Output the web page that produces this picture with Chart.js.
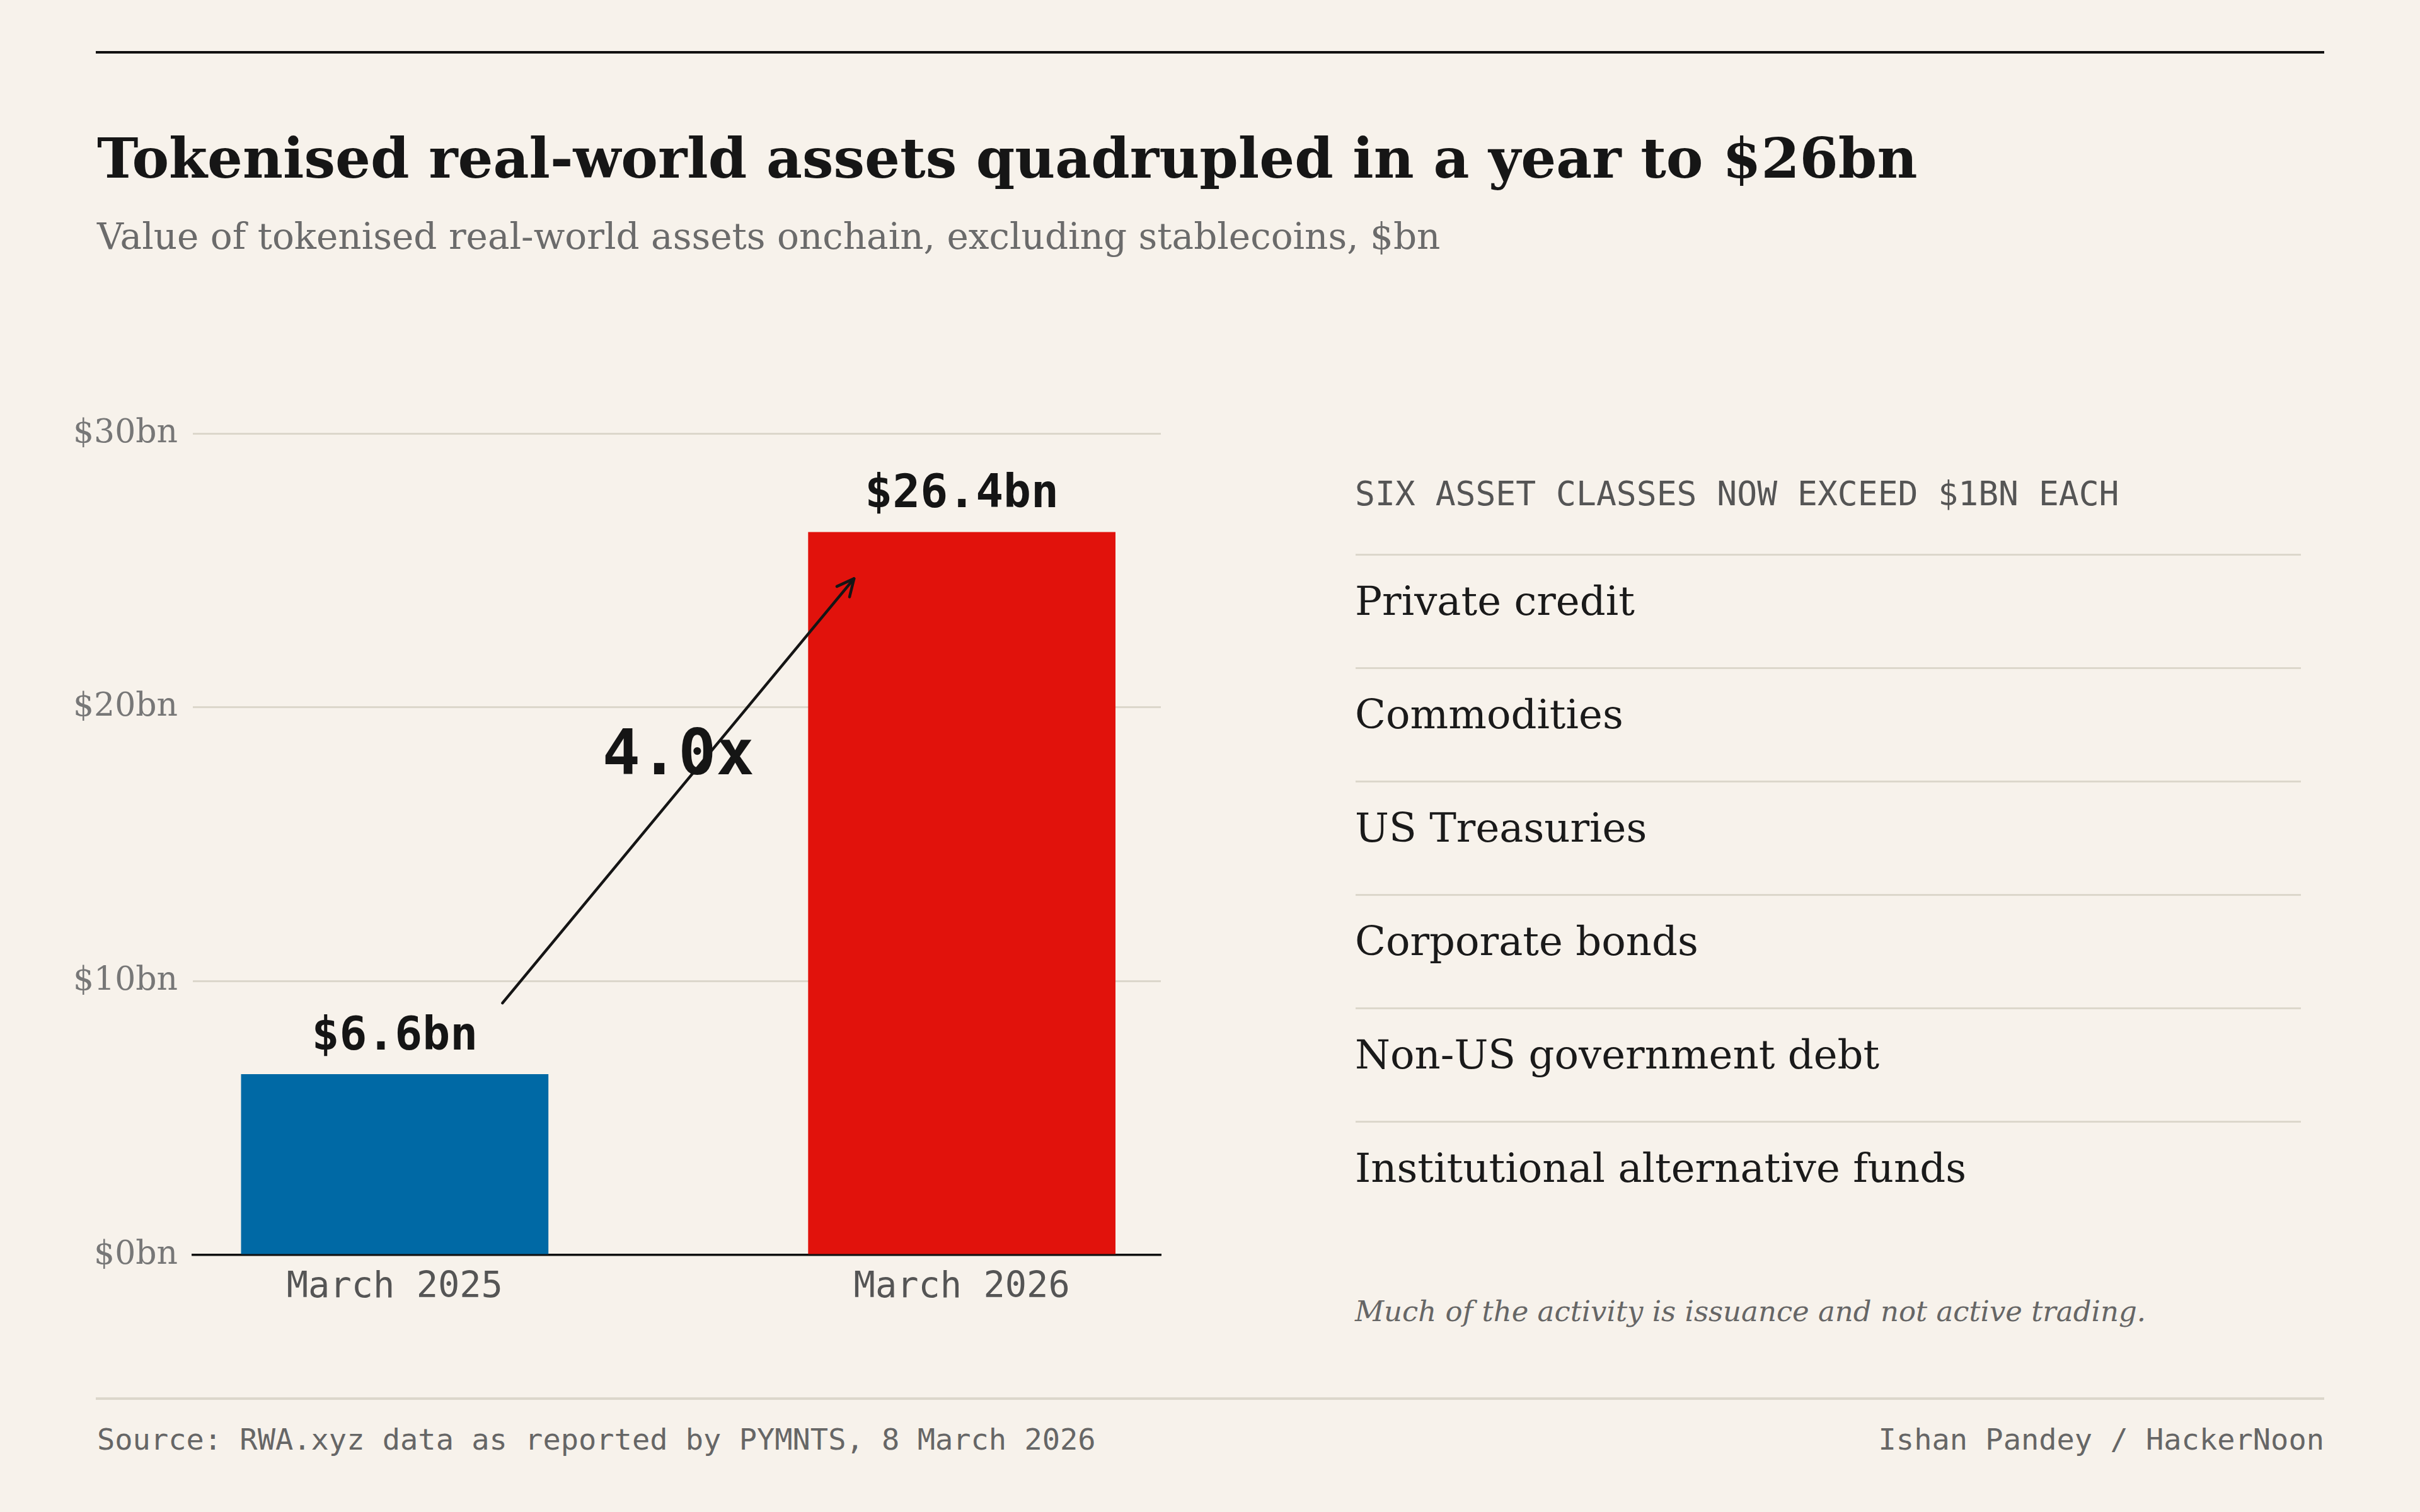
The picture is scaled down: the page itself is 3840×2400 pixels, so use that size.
<!DOCTYPE html>
<html>
<head>
<meta charset="utf-8">
<title>Tokenised real-world assets</title>
<script src="https://cdn.jsdelivr.net/npm/chart.js@4.4.1/dist/chart.umd.min.js"></script>
<style>
  html, body { margin: 0; padding: 0; background: #f7f2eb; }
  .page { position: relative; width: 3840px; height: 2400px; overflow: hidden; }
  .abs { position: absolute; white-space: nowrap; line-height: 1; }
  .rule { position: absolute; left: 152px; width: 3536px; }
  .rule-top { top: 81px; height: 4px; background: #111; }
  .rule-bottom { top: 2218px; height: 4px; background: #dcd7cb; }
  .title { left: 154px; top: 199px; font: bold 88px 'DejaVu Serif'; color: #161616; }
  .subtitle { left: 154px; top: 341px; font: 58px 'DejaVu Serif'; color: #6b6b6b; }
  .chart-box { position: absolute; left: 0; top: 0; width: 1900px; height: 2150px; }
  .panel-head { left: 2150px; top: 753px; font: 53px 'DejaVu Sans Mono'; color: #555; }
  .sep { position: absolute; left: 2151px; width: 1500px; height: 3px; background: #dcd7cb; }
  .item { left: 2150px; font: 64px 'DejaVu Serif'; color: #1a1a1a; }
  .note { left: 2150px; top: 2055px; font: italic 45px 'DejaVu Serif'; color: #666; }
  .foot { top: 2257px; font: 47px 'DejaVu Sans Mono'; color: #666; }
  .foot-left { left: 154px; }
  .foot-right { right: 152px; }
</style>
</head>
<body>
<div class="page" id="page">
  <div class="rule rule-top"></div>
  <div class="abs title">Tokenised real-world assets quadrupled in a year to $26bn</div>
  <div class="abs subtitle">Value of tokenised real-world assets onchain, excluding stablecoins, $bn</div>

  <div class="chart-box"><canvas id="chart" width="1900" height="2150"></canvas></div>

  <div class="abs panel-head">SIX ASSET CLASSES NOW EXCEED $1BN EACH</div>
  <div id="panel"></div>
  <div class="abs note">Much of the activity is issuance and not active trading.</div>

  <div class="rule rule-bottom"></div>
  <div class="abs foot foot-left">Source: RWA.xyz data as reported by PYMNTS, 8 March 2026</div>
  <div class="abs foot foot-right">Ishan Pandey / HackerNoon</div>
</div>

<script>
const categories = ['March 2025', 'March 2026']
const values = [6.6, 26.4]
const barColors = ['#0069a5', '#e1120c']
const yTicks = [0, 10, 20, 30]
const assetClasses = [
  'Private credit',
  'Commodities',
  'US Treasuries',
  'Corporate bonds',
  'Non-US government debt',
  'Institutional alternative funds'
]

// right-hand list
const panel = document.getElementById('panel')
assetClasses.forEach((name, i) => {
  const sep = document.createElement('div')
  sep.className = 'sep'
  sep.style.top = (879 + i * 180) + 'px'
  panel.appendChild(sep)

  const item = document.createElement('div')
  item.className = 'abs item'
  item.style.top = (917 + i * 180) + 'px'
  item.textContent = name
  panel.appendChild(item)
})

const monoFont = 'DejaVu Sans Mono'

// value labels, growth arrow and multiple
const annotations = {
  id: 'annotations',
  afterDatasetsDraw(chart) {
    const { ctx, scales: { x, y } } = chart
    const meta = chart.getDatasetMeta(0)

    ctx.save()
    ctx.fillStyle = '#151515'
    ctx.textAlign = 'center'
    ctx.textBaseline = 'alphabetic'
    ctx.font = 'bold 73px "' + monoFont + '"'
    meta.data.forEach((bar, i) => {
      ctx.fillText('$' + values[i].toFixed(1) + 'bn', bar.x, bar.y - 39)
    })

    const x0 = x.getPixelForValue(0.19)
    const y0 = y.getPixelForValue(values[0] + 2.6)
    const x1 = x.getPixelForValue(0.81)
    const y1 = y.getPixelForValue(values[1] - 1.7)

    ctx.strokeStyle = '#151515'
    ctx.lineWidth = 4.5
    ctx.lineCap = 'round'
    ctx.lineJoin = 'round'
    ctx.beginPath()
    ctx.moveTo(x0, y0)
    ctx.lineTo(x1, y1)
    ctx.stroke()

    const ang = Math.atan2(y1 - y0, x1 - x0)
    const head = 30
    ctx.beginPath()
    ctx.moveTo(x1 - head * Math.cos(ang - 0.45), y1 - head * Math.sin(ang - 0.45))
    ctx.lineTo(x1, y1)
    ctx.lineTo(x1 - head * Math.cos(ang + 0.45), y1 - head * Math.sin(ang + 0.45))
    ctx.stroke()

    ctx.font = 'bold 100px "' + monoFont + '"'
    ctx.fillText((values[1] / values[0]).toFixed(1) + 'x', (x0 + x1) / 2, (y0 + y1) / 2 - 26)
    ctx.restore()
  }
}

new Chart(document.getElementById('chart'), {
  type: 'bar',
  data: {
    datasets: [{
      data: values.map((v, i) => ({ x: i, y: v })),
      backgroundColor: barColors,
      borderWidth: 0,
      categoryPercentage: 1,
      barPercentage: 0.542
    }]
  },
  options: {
    responsive: false,
    animation: false,
    devicePixelRatio: 1,
    layout: { padding: { left: 0, top: 688, right: 58, bottom: 58 } },
    plugins: {
      legend: { display: false },
      tooltip: { enabled: false }
    },
    scales: {
      x: {
        type: 'linear',
        offset: false,
        min: -0.356,
        max: 1.351,
        afterBuildTicks: axis => { axis.ticks = categories.map((c, i) => ({ value: i })) },
        afterFit: axis => { axis.height = 100 },
        grid: { display: false, offset: false },
        border: { display: true, color: '#111', width: 3.5 },
        ticks: {
          padding: 10,
          maxRotation: 0,
          autoSkip: false,
          color: '#555',
          font: { family: monoFont, size: 57 },
          callback: v => categories[v]
        }
      },
      y: {
        min: 0,
        max: 30,
        afterBuildTicks: axis => { axis.ticks = yTicks.map(v => ({ value: v })) },
        afterFit: axis => { axis.width = 306 },
        grid: { color: '#dcd7cb', lineWidth: 3, drawTicks: false },
        border: { display: false },
        ticks: {
          padding: 24,
          color: '#777',
          font: { family: 'DejaVu Serif', size: 52 },
          callback: v => '$' + v + 'bn'
        }
      }
    }
  },
  plugins: [annotations]
})
</script>
</body>
</html>
